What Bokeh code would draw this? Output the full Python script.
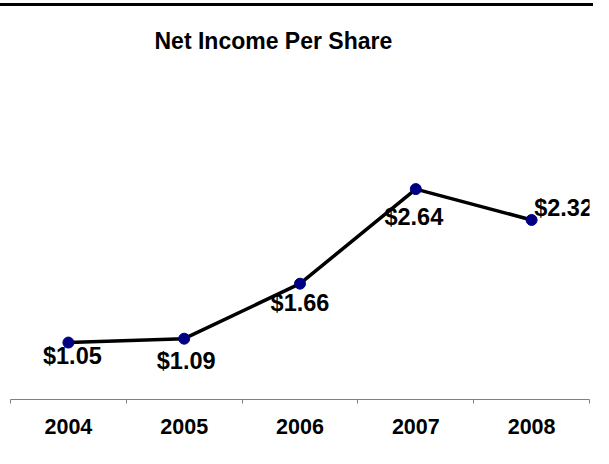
from bokeh.plotting import figure
from bokeh.models import ColumnDataSource, LabelSet, Range1d, FixedTicker
from bokeh.core.properties import value
from bokeh.embed import file_html
from bokeh.resources import INLINE

# ---- data ----
years = ["2004", "2005", "2006", "2007", "2008"]
eps = [1.05, 1.09, 1.66, 2.64, 2.32]
title_text = "Net Income Per Share"

# ---- label placement (screen px offsets, styling only) ----
label_dx = [4, 2, 0, -2, 32]
label_dy = [-21, -30, -27, -36, 4]

x = list(range(1, len(years) + 1))
labels = ["$%.2f" % v for v in eps]
src = ColumnDataSource(dict(x=x, eps=eps, label=labels, dx=label_dx, dy=label_dy))

p = figure(width=596, height=442,
           x_range=Range1d(0.5, len(years) + 0.5),
           y_range=Range1d(0.46, 3.91),
           output_backend="svg", toolbar_location=None,
           min_border_left=10, min_border_right=7,
           min_border_top=60, min_border_bottom=49)
p.margin = (3, 0, 0, -3)
p.styles = {"border-top": "3px solid black", "border-left": "3px solid black"}

p.outline_line_color = None
p.grid.visible = False
p.yaxis.visible = False
p.background_fill_color = "white"
p.border_fill_color = "white"

ax = p.xaxis[0]
ax.ticker = FixedTicker(ticks=x, minor_ticks=[0.5 + i for i in range(len(years) + 1)])
ax.major_label_overrides = {i + 1: y for i, y in enumerate(years)}
ax.major_tick_line_color = None
ax.major_tick_out = 0
ax.major_tick_in = 0
ax.minor_tick_line_color = "#808080"
ax.minor_tick_out = 4
ax.minor_tick_in = 0
ax.axis_line_color = "#808080"
ax.axis_line_width = 1
ax.major_label_text_font = "Liberation Sans"
ax.major_label_text_font_style = "bold"
ax.major_label_text_font_size = "21.5px"
ax.major_label_text_color = "black"
ax.major_label_standoff = 15

p.line("x", "eps", source=src, line_color="black", line_width=3.5)
p.scatter("x", "eps", source=src, size=11, fill_color="#000080", line_color="#000080")

p.add_layout(LabelSet(x="x", y="eps", text="label", x_offset="dx", y_offset="dy",
                      source=src, text_align="center", text_baseline="alphabetic",
                      text_font=value("Liberation Sans"), text_font_style="bold",
                      text_font_size="23.5px", text_color="black"))

p.title.text = title_text
p.title.text_font = "Liberation Sans"
p.title.text_font_size = "23px"
p.title.text_font_style = "bold"
p.title.text_color = "black"
p.title.align = "left"
p.title.offset = 144
p.title.standoff = 26

open("out.html", "w").write(file_html(p, INLINE))
